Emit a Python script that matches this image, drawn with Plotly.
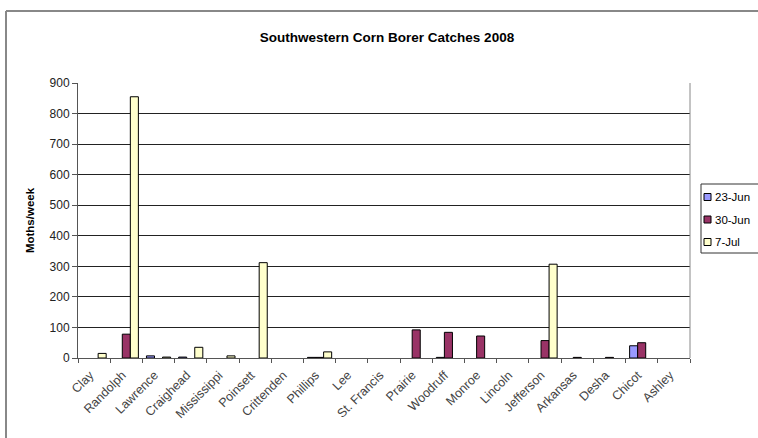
import plotly.graph_objects as go

counties = ["Clay", "Randolph", "Lawrence", "Craighead", "Mississippi", "Poinsett",
            "Crittenden", "Phillips", "Lee", "St. Francis", "Prairie", "Woodruff",
            "Monroe", "Lincoln", "Jefferson", "Arkansas", "Desha", "Chicot", "Ashley"]
jun23 = [0, 0, 7, 3, 0, 0, 0, 2, 0, 0, 0, 2, 0, 0, 0, 0, 0, 40, 0]
jun30 = [0, 78, 0, 0, 0, 0, 0, 2, 0, 0, 92, 84, 72, 0, 57, 2, 2, 50, 0]
jul7 = [15, 855, 3, 35, 7, 312, 0, 20, 0, 0, 0, 0, 0, 0, 307, 0, 0, 0, 0]

series_names = ["23-Jun", "30-Jun", "7-Jul"]
series_vals = [jun23, jun30, jul7]
series_cols = ["#9999FF", "#993366", "#FFFFCC"]

FONT = "Arial, Liberation Sans, sans-serif"

fig = go.Figure()
for name, vals, col in zip(series_names, series_vals, series_cols):
    fig.add_trace(go.Bar(x=counties, y=[v if v else None for v in vals], name=name,
                         marker_color=col, marker_line_color="#000000", marker_line_width=1))

L, R, T, B = 78, 68, 83, 80
W, H = 758, 438
pw, ph = W - L - R, H - T - B

def px(x):
    return (x - L) / pw

def py(y):
    return (H - B - y) / ph

shapes = [
    dict(type="line", xref="paper", yref="paper", x0=px(6), x1=px(W + 5), y0=py(11), y1=py(11),
         line=dict(color="#888888", width=2)),
    dict(type="line", xref="paper", yref="paper", x0=px(6), x1=px(6), y0=py(11), y1=py(H + 5),
         line=dict(color="#888888", width=2)),
    dict(type="line", xref="paper", yref="paper", x0=1, x1=1, y0=0, y1=1,
         line=dict(color="#888888", width=1)),
    # legend box
    dict(type="rect", xref="paper", yref="paper", x0=px(701), x1=px(W + 10), y0=py(184), y1=py(253),
         line=dict(color="#333333", width=1), fillcolor="white"),
]
annotations = []
for i, (name, col) in enumerate(zip(series_names, series_cols)):
    yc = 197 + i * 22.5
    shapes.append(dict(type="rect", xref="paper", yref="paper", x0=px(704), x1=px(711),
                       y0=py(yc - 3.5), y1=py(yc + 3.5), line=dict(color="#000000", width=1),
                       fillcolor=col))
    annotations.append(dict(text=name, xref="paper", yref="paper", x=px(713), y=py(yc),
                            xanchor="left", yanchor="middle", showarrow=False,
                            font=dict(size=11.5, family=FONT, color="#000000")))

fig.update_layout(
    width=W, height=H,
    margin=dict(l=L, r=R, t=T, b=B, autoexpand=False),
    paper_bgcolor="white", plot_bgcolor="white",
    barmode="group", bargap=0.25, bargroupgap=0,
    font=dict(family=FONT, color="#000000", size=11),
    title=dict(text="<b>Southwestern Corn Borer Catches 2008</b>", x=px(387), xanchor="center",
               xref="paper", y=1 - 37 / H, yanchor="middle",
               font=dict(size=13.5, family=FONT, color="#000000")),
    showlegend=False,
    xaxis=dict(type="category", tickangle=-45, tickson="boundaries", ticks="outside",
               ticklen=4, tickcolor="#555555", showline=True, linecolor="#555555",
               linewidth=1, showgrid=False, ticklabelshift=-4, ticklabelstandoff=4,
               tickfont=dict(size=12.5, color="#444444", family=FONT)),
    yaxis=dict(range=[0, 900], dtick=100, ticks="outside", ticklen=5, tickcolor="#555555",
               showline=True, linecolor="#555555", linewidth=1, showgrid=True,
               gridcolor="#222222", gridwidth=1, zeroline=False,
               tickfont=dict(size=12, color="#222222", family=FONT),
               title=dict(text="<b>Moths/week</b>", font=dict(size=11.5, family=FONT), standoff=12)),
    shapes=shapes,
    annotations=annotations,
)

fig.write_html("out.html")
